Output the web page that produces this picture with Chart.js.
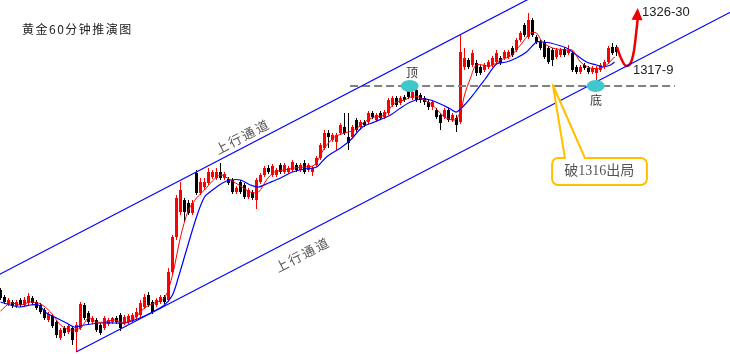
<!DOCTYPE html>
<html><head><meta charset="utf-8">
<script src="https://cdn.jsdelivr.net/npm/chart.js@4.4.1/dist/chart.umd.min.js"></script>
<style>html,body{margin:0;padding:0;background:#fff;overflow:hidden}#wrap{position:relative;width:730px;height:354px}</style>
</head><body><div id="wrap"><canvas id="c" width="730" height="354"></canvas></div>
<script>
// ---- candle data (hourly bars, index 0..154) ----
const openP = [1295.6,1294.9,1294.2,1294.4,1294.0,1294.6,1294.1,1294.3,1294.8,1294.4,
1294.1,1293.6,1292.6,1293.0,1292.4,1290.8,1291.8,1291.4,1291.8,1291.4,
1291.8,1294.1,1293.3,1292.4,1292.6,1292.1,1291.8,1292.2,1292.4,1292.8,
1293.1,1292.3,1292.4,1292.6,1292.9,1293.1,1293.9,1295.1,1294.4,1294.1,
1294.4,1294.9,1294.6,1297.4,1300.9,1303.4,1304.6,1304.3,1303.3,1307.3,
1305.3,1305.9,1306.3,1306.9,1306.8,1307.4,1306.8,1306.7,1306.6,1305.4,
1306.4,1306.1,1304.9,1305.4,1304.6,1306.4,1307.1,1307.8,1307.1,1307.1,
1308.1,1307.4,1307.4,1307.6,1308.1,1307.6,1308.3,1307.6,1307.4,1308.1,
1308.8,1309.8,1311.3,1310.6,1310.4,1311.3,1311.9,1310.9,1310.9,1312.6,
1311.9,1312.4,1312.4,1313.3,1312.6,1313.3,1312.9,1313.3,1314.1,1314.8,
1314.3,1314.9,1315.6,1314.8,1315.6,1315.1,1314.8,1314.4,1313.9,1313.6,
1313.1,1312.9,1313.6,1312.6,1312.8,1312.4,1317.9,1318.6,1318.1,1318.3,
1317.9,1317.6,1317.9,1318.1,1318.4,1318.8,1318.8,1318.9,1319.8,1319.6,
1320.6,1322.1,1320.9,1322.6,1320.9,1320.4,1320.4,1319.8,1319.6,1318.9,
1319.1,1319.7,1319.3,1319.3,1317.9,1317.4,1318.1,1317.8,1317.4,1317.3,
1317.6,1317.9,1318.4,1319.9,1319.9];
const highP = [1295.8,1295.1,1294.8,1294.6,1294.6,1294.8,1294.9,1295.3,1295.0,1294.6,
1294.3,1293.8,1293.4,1293.2,1292.6,1291.8,1292.0,1292.2,1292.0,1292.4,
1294.4,1294.3,1293.5,1293.0,1292.8,1292.3,1293.0,1292.8,1292.9,1293.0,
1293.3,1293.1,1293.2,1293.3,1293.8,1294.6,1295.2,1295.4,1294.6,1294.8,
1295.1,1295.1,1297.8,1301.1,1305.1,1306.4,1304.8,1304.6,1304.6,1307.6,
1306.8,1306.8,1307.8,1307.6,1307.8,1308.3,1307.4,1306.9,1306.8,1306.0,
1306.6,1306.3,1305.8,1305.6,1306.8,1307.3,1308.0,1308.1,1308.2,1307.8,
1308.3,1308.3,1308.0,1308.6,1308.3,1308.3,1308.6,1308.3,1308.0,1309.0,
1310.3,1311.6,1311.6,1311.3,1311.3,1312.3,1313.3,1313.3,1312.1,1312.8,
1312.6,1312.6,1313.5,1313.5,1313.3,1313.5,1313.6,1314.8,1315.0,1315.0,
1315.0,1315.1,1315.8,1315.6,1315.9,1315.3,1315.0,1314.6,1314.6,1313.8,
1313.3,1313.8,1313.8,1313.3,1313.1,1321.1,1319.8,1318.8,1319.6,1318.6,
1318.1,1318.3,1318.6,1319.0,1319.6,1319.0,1319.6,1319.6,1320.0,1320.8,
1321.5,1322.3,1323.3,1322.8,1321.1,1320.6,1320.6,1320.0,1319.8,1319.8,
1319.8,1319.9,1320.1,1319.5,1318.1,1318.1,1318.3,1318.0,1318.0,1318.0,
1318.3,1318.6,1320.0,1320.3,1320.1];
const lowP = [1294.6,1294.2,1294.0,1293.8,1293.8,1293.9,1293.9,1294.0,1294.1,1293.6,
1293.2,1292.6,1292.4,1291.8,1290.8,1290.6,1291.0,1291.2,1290.1,1289.4,
1291.6,1292.6,1292.1,1292.2,1291.4,1291.1,1291.6,1292.0,1292.2,1292.2,
1291.5,1292.1,1292.2,1292.4,1292.7,1292.9,1293.7,1293.9,1293.2,1293.9,
1294.2,1294.2,1294.4,1297.1,1300.6,1303.1,1302.4,1303.1,1303.1,1305.1,
1305.1,1305.6,1306.1,1306.7,1306.6,1306.6,1306.6,1306.1,1305.2,1305.2,
1305.2,1304.7,1304.7,1304.6,1303.7,1306.2,1306.9,1307.2,1306.9,1306.9,
1307.2,1307.2,1307.2,1307.4,1307.4,1307.4,1307.2,1307.4,1307.0,1307.9,
1308.6,1309.6,1309.8,1310.4,1309.6,1311.1,1311.1,1309.6,1310.7,1311.4,
1311.6,1311.9,1312.2,1312.7,1312.4,1312.6,1312.7,1313.1,1313.9,1313.9,
1314.1,1314.4,1314.7,1314.6,1314.4,1314.3,1314.1,1313.6,1313.6,1312.7,
1311.6,1312.7,1312.4,1312.4,1311.4,1312.2,1317.6,1317.7,1317.9,1317.0,
1317.1,1317.4,1317.7,1317.9,1318.2,1318.1,1318.6,1318.7,1318.9,1319.4,
1320.4,1320.9,1320.7,1320.9,1320.2,1319.6,1318.7,1318.2,1318.0,1318.7,
1318.9,1318.9,1319.1,1317.4,1317.2,1317.2,1317.6,1317.2,1317.2,1316.6,
1317.4,1317.7,1318.2,1319.1,1319.0];
const closeP = [1294.8,1294.4,1294.6,1294.0,1294.4,1294.1,1294.6,1295.0,1294.3,1293.8,
1293.4,1292.8,1293.2,1292.0,1291.1,1291.6,1291.3,1292.0,1290.6,1292.1,
1294.2,1292.8,1292.4,1292.8,1291.6,1291.3,1292.8,1292.6,1292.8,1292.4,
1291.8,1292.9,1293.0,1293.1,1293.4,1294.3,1294.9,1294.1,1293.4,1294.6,
1294.9,1294.4,1297.4,1300.9,1304.8,1305.6,1303.4,1303.3,1304.3,1305.3,
1306.4,1306.4,1307.4,1307.4,1307.4,1306.8,1307.2,1306.3,1305.4,1305.8,
1305.4,1304.9,1305.6,1304.8,1306.6,1307.1,1307.8,1307.4,1308.0,1307.6,
1307.4,1308.1,1307.8,1308.4,1307.6,1308.1,1307.4,1308.1,1307.8,1308.8,
1310.1,1311.3,1310.9,1311.1,1311.1,1312.1,1311.3,1310.3,1311.9,1311.6,
1312.4,1312.1,1313.3,1312.9,1313.1,1312.8,1313.4,1314.6,1314.8,1314.1,
1314.8,1314.6,1314.9,1315.4,1314.6,1314.6,1314.4,1313.9,1314.4,1312.9,
1312.3,1313.6,1312.6,1313.1,1312.1,1319.4,1318.8,1317.9,1319.3,1317.3,
1317.3,1318.1,1318.4,1318.8,1319.3,1318.3,1319.4,1319.4,1319.1,1320.6,
1321.3,1321.1,1322.6,1321.1,1320.4,1319.8,1318.9,1318.4,1318.6,1319.6,
1319.6,1319.1,1319.6,1317.6,1317.4,1317.9,1317.8,1317.4,1317.8,1317.8,
1318.1,1318.4,1319.8,1319.3,1319.4];

// ---- moving averages (bar index, price) ----
const maFastIdx = [0,2.5,5,7.5,10,12.5,15,17.5,20,22,24,26,28.5,31,33.5,36,38.5,41,43,45,47,49,51,53,55,57.5,60,62.5,64.5,66.5,68.5,71,73.5,76,78.5,81,83.5,86,88.5,91,93.5,96,98.5,101,103.5,106,108.5,111,113.5,115,116,117.5,119,122.5,125,127.5,130,132.5,134,135.5,138,141.5,143,145,147.5,150,151.5,153.5];
const maFastVal = [1293.5,1294.3,1294.1,1294.4,1294.2,1293.4,1292.1,1291.6,1291.8,1292.8,1292.4,1292.4,1292.6,1292.3,1292.8,1293.8,1294.3,1294.8,1297.1,1300.9,1303.6,1304.8,1305.6,1306.5,1307.1,1306.6,1306.0,1305.4,1305.4,1306.6,1307.4,1307.6,1307.8,1307.9,1308.1,1309.8,1310.9,1311.3,1311.6,1312.4,1312.9,1313.1,1314.3,1314.6,1315.0,1314.6,1313.9,1312.9,1312.6,1313.4,1315.1,1316.8,1318.1,1318.0,1318.6,1319.0,1320.1,1321.3,1321.3,1320.4,1319.8,1319.6,1319.6,1318.4,1317.8,1317.8,1318.1,1318.9];
const maSlowIdx = [0,2.5,5,7.5,9.5,11.5,14,16.5,18.5,21,25,28.5,31,33.5,36,38.5,41,43,44.5,46.5,49,51,53,55.5,57.5,60,62.5,64.5,67,70,73,76,79,81.5,85,87.5,90.5,93.5,97.5,100,102.5,105,107.5,110,112.5,114,116,118.5,121,124,126.5,129,131.5,134,135.5,137.5,141.5,144,146.5,149,150.5,152.5,153.5];
const maSlowVal = [1294.4,1294.1,1293.9,1294.1,1294.1,1293.3,1292.8,1292.3,1291.9,1292.1,1292.3,1292.3,1292.3,1292.6,1293.0,1293.5,1294.1,1295.1,1296.9,1299.6,1302.9,1304.9,1305.6,1306.3,1306.6,1306.6,1306.1,1305.9,1306.3,1306.8,1307.4,1307.7,1307.9,1308.9,1309.8,1310.6,1311.9,1312.4,1313.1,1313.8,1314.4,1314.7,1314.6,1314.2,1313.7,1313.4,1314.1,1315.3,1316.6,1318.2,1318.4,1318.8,1319.4,1320.4,1320.4,1320.3,1319.8,1319.1,1318.4,1318.1,1317.9,1318.1,1318.4];

// ---- drawn lines ----
const upperChannelIdx = [-2, 134];
const upperChannelVal = [1296.8, 1325.1];
const lowerChannelIdx = [18.9, 184];
const lowerChannelVal = [1289.4, 1323.7];
const supportIdx = [87.4, 168.6];
const supportVal = [1316.0, 1316.0];
const forecastIdx = [154.1, 155.1, 156.4, 157.4, 158.4, 159.0, 159.3];
const forecastVal = [1319.9, 1318.8, 1318.0, 1318.2, 1319.6, 1321.6, 1322.7];
const forecastTip = [159.3, 1323.8];

// ---- texts ----
const titleText = '黄金60分钟推演图';
const channelLabel = '上行通道';
const topLabel = '顶', bottomLabel = '底';
const calloutText = '破1316出局';
const targetLabel = '1326-30', supportLabel = '1317-9';

// annotation anchors (bar index, price)
const topMark = [102.3, 1316.0], topText = [102.9, 1317.4];
const bottomMark = [148.8, 1316.0], bottomText = [148.9, 1314.6];
const upperLabelAt = [60.3, 1310.9], lowerLabelAt = [75.3, 1299.1];
const calloutBoxIdx = [137.9, 161.6], calloutBoxVal = [1308.8, 1306.1];
const calloutApex = [138.1, 1316.1], calloutBaseIdx = [141.1, 146.1];
const calloutTextAt = [149.7, 1307.45];
const targetAt = [160.4, 1323.4], supportAt = [158.1, 1317.6];

const idx = openP.map((_, i) => i);
const candleCol = idx.map(i => closeP[i] >= openP[i] ? '#ff0000' : '#000000');
const pts = (a, b) => a.map((v, k) => ({x: v, y: b[k]}));

const annot = {
  id: 'annot',
  afterDatasetsDraw(chart) {
    const {ctx, scales: {x, y}} = chart;
    const px = v => x.getPixelForValue(v), py = v => y.getPixelForValue(v);
    ctx.save();
    // arrow head of forecast
    const n = forecastIdx.length;
    const ax = px(forecastTip[0]), ay = py(forecastTip[1]);
    const bx = px(forecastIdx[n - 2]), by = py(forecastVal[n - 2]);
    const ang = Math.atan2(ay - by, ax - bx);
    ctx.fillStyle = '#ee0000';
    ctx.beginPath();
    ctx.moveTo(ax, ay);
    ctx.lineTo(ax - 12 * Math.cos(ang) + 5.5 * Math.sin(ang), ay - 12 * Math.sin(ang) - 5.5 * Math.cos(ang));
    ctx.lineTo(ax - 12 * Math.cos(ang) - 5.5 * Math.sin(ang), ay - 12 * Math.sin(ang) + 5.5 * Math.cos(ang));
    ctx.closePath(); ctx.fill();

    // ellipses
    ctx.fillStyle = '#3ec8cc';
    [topMark, bottomMark].forEach(m => {
      ctx.beginPath(); ctx.ellipse(px(m[0]), py(m[1]), 9, 6, 0, 0, Math.PI * 2); ctx.fill();
    });
    ctx.fillStyle = '#333';
    ctx.font = '12px "Noto Sans CJK SC"';
    ctx.textAlign = 'center'; ctx.textBaseline = 'middle';
    ctx.fillText(topLabel, px(topText[0]), py(topText[1]));
    ctx.fillText(bottomLabel, px(bottomText[0]), py(bottomText[1]));

    // channel labels
    const angle = Math.atan2(py(upperChannelVal[1]) - py(upperChannelVal[0]), px(upperChannelIdx[1]) - px(upperChannelIdx[0]));
    ctx.fillStyle = '#555';
    ctx.font = '13px "Noto Sans CJK SC"';
    ctx.letterSpacing = '2px';
    [upperLabelAt, lowerLabelAt].forEach(p => {
      ctx.save(); ctx.translate(px(p[0]), py(p[1])); ctx.rotate(angle);
      ctx.fillText(channelLabel, 1, 0); ctx.restore();
    });
    ctx.letterSpacing = '0px';

    // callout
    const x0 = px(calloutBoxIdx[0]), x1 = px(calloutBoxIdx[1]);
    const y0 = py(calloutBoxVal[0]), y1 = py(calloutBoxVal[1]);
    const r = 6;
    ctx.beginPath();
    ctx.moveTo(x0 + r, y0);
    ctx.lineTo(px(calloutBaseIdx[0]), y0);
    ctx.lineTo(px(calloutApex[0]), py(calloutApex[1]));
    ctx.lineTo(px(calloutBaseIdx[1]), y0);
    ctx.lineTo(x1 - r, y0);
    ctx.arcTo(x1, y0, x1, y0 + r, r);
    ctx.lineTo(x1, y1 - r);
    ctx.arcTo(x1, y1, x1 - r, y1, r);
    ctx.lineTo(x0 + r, y1);
    ctx.arcTo(x0, y1, x0, y1 - r, r);
    ctx.lineTo(x0, y0 + r);
    ctx.arcTo(x0, y0, x0 + r, y0, r);
    ctx.closePath();
    ctx.fillStyle = '#ffffff'; ctx.fill();
    ctx.strokeStyle = '#ffc000'; ctx.lineWidth = 2; ctx.lineJoin = 'round'; ctx.stroke();
    ctx.fillStyle = '#555';
    ctx.font = '14px "Liberation Serif", "Noto Sans CJK SC"';
    ctx.fillText(calloutText, px(calloutTextAt[0]), py(calloutTextAt[1]));

    // price labels
    ctx.fillStyle = '#222';
    ctx.textAlign = 'left';
    ctx.font = '13px "Liberation Sans"';
    ctx.fillText(targetLabel, px(targetAt[0]), py(targetAt[1]));
    ctx.fillText(supportLabel, px(supportAt[0]), py(supportAt[1]));

    // title
    ctx.fillStyle = '#222';
    ctx.font = '12px "Noto Sans CJK SC"';
    ctx.letterSpacing = '1.5px';
    ctx.fillText(titleText, chart.chartArea.left + 22, chart.chartArea.top + 29);
    ctx.restore();
  }
};

new Chart(document.getElementById('c'), {
  type: 'bar',
  data: {
    datasets: [
      {type: 'line', data: pts(maFastIdx, maFastVal), borderColor: '#ff0000', borderWidth: 1, pointRadius: 0, tension: 0.3, order: 1},
      {type: 'line', data: pts(maSlowIdx, maSlowVal), borderColor: '#0000ff', borderWidth: 1.2, pointRadius: 0, tension: 0.3, order: 1},
      {type: 'line', data: pts(upperChannelIdx, upperChannelVal), borderColor: '#0000ff', borderWidth: 1.2, pointRadius: 0, order: 0},
      {type: 'line', data: pts(lowerChannelIdx, lowerChannelVal), borderColor: '#0000ff', borderWidth: 1.2, pointRadius: 0, order: 0},
      {type: 'line', data: pts(supportIdx, supportVal), borderColor: '#808080', borderWidth: 2, borderDash: [8, 4], pointRadius: 0, order: 2},
      {type: 'line', data: pts(forecastIdx, forecastVal), borderColor: '#ee0000', borderWidth: 2.5, pointRadius: 0, cubicInterpolationMode: 'monotone', order: 0},
      {type: 'bar', data: idx.map(i => ({x: i, y: [openP[i], closeP[i]]})), backgroundColor: candleCol, barThickness: 3, grouped: false, borderWidth: 0, inflateAmount: 0, order: 3},
      {type: 'bar', data: idx.map(i => ({x: i, y: [lowP[i], highP[i]]})), backgroundColor: candleCol, barThickness: 1, grouped: false, borderWidth: 0, inflateAmount: 0, order: 4}
    ]
  },
  options: {
    responsive: false,
    devicePixelRatio: 1,
    animation: false,
    layout: {padding: 0},
    plugins: {legend: {display: false}, tooltip: {enabled: false}},
    scales: {
      x: {type: 'linear', min: -0.125, max: 182.375, offset: false, display: false},
      y: {type: 'linear', min: 1289.2, max: 1324.6, beginAtZero: false, display: false}
    }
  },
  plugins: [annot]
});
</script>
</body></html>
